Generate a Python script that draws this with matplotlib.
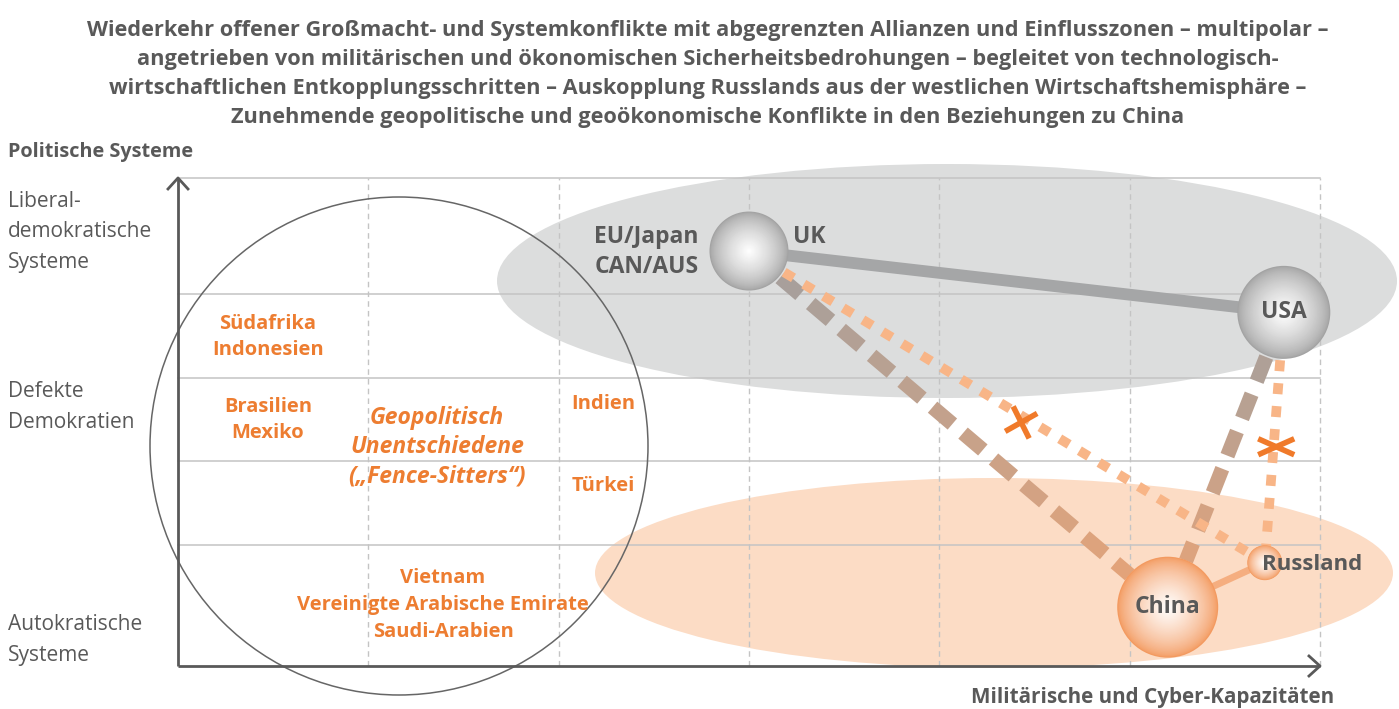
import matplotlib.pyplot as plt
from matplotlib.patches import Ellipse
import matplotlib.colors as mcolors
import numpy as np

plt.rcParams['font.family'] = ['Open Sans', 'DejaVu Sans']

# --- data -------------------------------------------------------------
# x: military & cyber capacity (0..6), y: political system (0 = autocratic)
col_lines = [1, 2, 3, 4, 5, 6]
row_lines = [1.44, 2.44, 3.43, 4.43, 5.81]

node_names = ["EU/Japan", "USA", "China", "Russland"]
node_x = [3.00, 5.81, 5.20, 5.71]
node_y = [4.94, 4.21, 0.70, 1.23]
node_r = [39, 46, 50, 17]          # radius in pixels
node_kind = ["west", "west", "east", "east"]

# links: (from, to, style)
links = [
    ("EU/Japan", "USA", "solid_gray"),
    ("China", "Russland", "solid_orange"),
    ("EU/Japan", "China", "dash"),
    ("USA", "China", "dash"),
    ("EU/Japan", "Russland", "dot"),
    ("USA", "Russland", "dot"),
]
# broken links (X marks)
break_x = [4.43, 5.77]
break_y = [2.90, 2.61]

title = ("Wiederkehr offener Großmacht- und Systemkonflikte mit abgegrenzten Allianzen und Einflusszonen – multipolar –\n"
         "angetrieben von militärischen und ökonomischen Sicherheitsbedrohungen – begleitet von technologisch-\n"
         "wirtschaftlichen Entkopplungsschritten – Auskopplung Russlands aus der westlichen Wirtschaftshemisphäre –\n"
         "Zunehmende geopolitische und geoökonomische Konflikte in den Beziehungen zu China")

y_labels = ["Liberal-\ndemokratische\nSysteme", "Defekte\nDemokratien", "Autokratische\nSysteme"]

# --- layout helpers ----------------------------------------------------
X0, Y0, SX, SY = 178, 666, 190.33, 84.0
GRAY = "#595959"
ORANGE = "#ed7d31"
GRID = "#c4c4c4"


def P(xp, yp):
    return (xp - X0) / SX, (Y0 - yp) / SY


def to_px(x, y):
    return X0 + x * SX, Y0 - y * SY


def mix(c0, c1, t):
    a = np.array(mcolors.to_rgb(c0))
    b = np.array(mcolors.to_rgb(c1))
    return tuple(a + (b - a) * t)


fig = plt.figure(figsize=(13.99, 7.09), dpi=100)
ax = fig.add_axes([0, 0, 1, 1])
ax.set_xlim(-X0 / SX, (1399 - X0) / SX)
ax.set_ylim((Y0 - 709) / SY, Y0 / SY)
ax.axis("off")

# background zones
cx, cy = P(947, 281)
ax.add_patch(Ellipse((cx, cy), 900 / SX, 234 / SY, color="#dcdddd", zorder=1, lw=0))
cx, cy = P(994, 573)
ax.add_patch(Ellipse((cx, cy), 798 / SX, 190 / SY, color="#fcdcc5", zorder=1, lw=0))

# grid
for yv in row_lines:
    ax.plot([0, 6], [yv, yv], color=GRID, lw=1.1, zorder=2)
for xv in col_lines:
    ax.plot([xv, xv], [0, row_lines[-1]], color=GRID, lw=1.0, ls=(0, (4, 3)), zorder=2)

# fence-sitter circle
cx, cy = P(399, 446)
ax.add_patch(Ellipse((cx, cy), 498 / SX, 498 / SY, fill=False, ec="#666666", lw=1.1, zorder=3))

# axes arrows
ytop = row_lines[-1]
ax.plot([0, 0], [0, ytop], color=GRAY, lw=2.0, zorder=3, solid_capstyle="butt")
ax.plot([0, 6], [0, 0], color=GRAY, lw=2.0, zorder=3, solid_capstyle="butt")
ax.plot([-10 / SX, 0, 10 / SX], [ytop - 11 / SY, ytop, ytop - 11 / SY], color=GRAY, lw=2.0, zorder=3)
ax.plot([6 - 11 / SX, 6, 6 - 11 / SX], [10 / SY, 0, -10 / SY], color=GRAY, lw=2.0, zorder=3)


# links
def seg_line(a, b, on, off, c0, c1, lw, z):
    ia, ib = node_names.index(a), node_names.index(b)
    pa = np.array(to_px(node_x[ia], node_y[ia]))
    pb = np.array(to_px(node_x[ib], node_y[ib]))
    d = pb - pa
    L = np.hypot(*d)
    u = d / L
    s = node_r[ia] + 2
    end = L - node_r[ib]
    while s < end:
        e = min(s + on, end)
        t = (s + e) / 2 / L
        q0 = pa + u * s
        q1 = pa + u * e
        x0, y0 = (q0[0] - X0) / SX, (Y0 - q0[1]) / SY
        x1, y1 = (q1[0] - X0) / SX, (Y0 - q1[1]) / SY
        ax.plot([x0, x1], [y0, y1], color=mix(c0, c1, t), lw=lw,
                solid_capstyle="butt", zorder=z)
        s += on + off


for a, b, style in links:
    ia, ib = node_names.index(a), node_names.index(b)
    if style == "solid_gray":
        ax.plot([node_x[ia], node_x[ib]], [node_y[ia], node_y[ib]], color="#a5a6a7",
                lw=8.5, zorder=4, solid_capstyle="butt")
    elif style == "solid_orange":
        ax.plot([node_x[ia], node_x[ib]], [node_y[ia], node_y[ib]], color="#f5ae80",
                lw=5, zorder=4, solid_capstyle="butt")
    elif style == "dash":
        seg_line(a, b, 26, 14, "#a19f9f", "#eaa476", 10.5, 4)
    else:
        seg_line(a, b, 11, 12, "#f8b587", "#f8b587", 7, 4.5)

# X marks
ax.plot([break_x[0] - 8 / SX, break_x[0] + 8 / SX], [break_y[0] + 16 / SY, break_y[0] - 16 / SY],
        color="#f07a2a", lw=4, zorder=5, solid_capstyle="butt")
ax.plot([break_x[0] - 16 / SX, break_x[0] + 16 / SX], [break_y[0] - 9 / SY, break_y[0] + 9 / SY],
        color="#f07a2a", lw=4, zorder=5, solid_capstyle="butt")
ax.plot([break_x[1] - 18 / SX, break_x[1] + 18 / SX], [break_y[1] + 8 / SY, break_y[1] - 8 / SY],
        color="#f07a2a", lw=4, zorder=5, solid_capstyle="butt")
ax.plot([break_x[1] - 18 / SX, break_x[1] + 18 / SX], [break_y[1] - 8 / SY, break_y[1] + 8 / SY],
        color="#f07a2a", lw=4, zorder=5, solid_capstyle="butt")

# spheres
edge_col = {"west": "#a3a3a3", "east": "#f39a60"}
for x, y, r, k in zip(node_x, node_y, node_r, node_kind):
    n = 40
    for i in range(n):
        t = i / (n - 1)
        ri = r * (1 - t) + 0.5
        c = mix(edge_col[k], "#ffffff", t ** 0.7)
        ax.add_patch(Ellipse((x, y), 2 * ri / SX, 2 * ri / SY, color=c, lw=0, zorder=6))

# node labels
lab = dict(color=GRAY, fontsize=16.5, fontweight="bold", zorder=7)
ax.text(*P(699, 252), "EU/Japan\nCAN/AUS", ha="right", va="center", linespacing=1.3, **lab)
ax.text(*P(793, 237), "UK", ha="left", va="center", **lab)
ax.text(node_x[1], node_y[1], "USA", ha="center", va="center", **lab)
ax.text(node_x[2], node_y[2], "China", ha="center", va="center", **lab)
ax.text(*P(1262, 564), "Russland", ha="left", va="center", **{**lab, "fontsize": 16})

# fence sitters
ot = dict(color=ORANGE, fontsize=14.5, fontweight="bold", ha="center", va="center", linespacing=1.35, zorder=7)
ax.text(*P(268, 337), "Südafrika\nIndonesien", **ot)
ax.text(*P(268, 420), "Brasilien\nMexiko", **ot)
ax.text(*P(603, 404), "Indien", **ot)
ax.text(*P(603, 486), "Türkei", **ot)
ax.text(*P(443, 605), "Vietnam\nVereinigte Arabische Emirate\nSaudi-Arabien", **{**ot, "linespacing": 1.46})
ax.text(*P(437, 447), "Geopolitisch\nUnentschiedene\n(„Fence-Sitters“)", style="italic",
        **{**ot, "fontsize": 16.5, "linespacing": 1.3})

# axis labels
ax.text(*P(8, 152), "Politische Systeme", color=GRAY, fontsize=14.3, fontweight="bold", ha="left", va="center")
ax.text(*P(1334, 698), "Militärische und Cyber-Kapazitäten", color=GRAY, fontsize=14.9, fontweight="bold",
        ha="right", va="center")
for lbl, yp in zip(y_labels, [232, 407, 640]):
    ax.text(*P(8, yp), lbl, color=GRAY, fontsize=15, ha="left", va="center", linespacing=1.62)

# title
ax.text(*P(708, 74), title, color=GRAY, fontsize=15.7, fontweight="bold", ha="center", va="center",
        linespacing=1.5)

fig.savefig("out.png", dpi=100)
plt.close(fig)
